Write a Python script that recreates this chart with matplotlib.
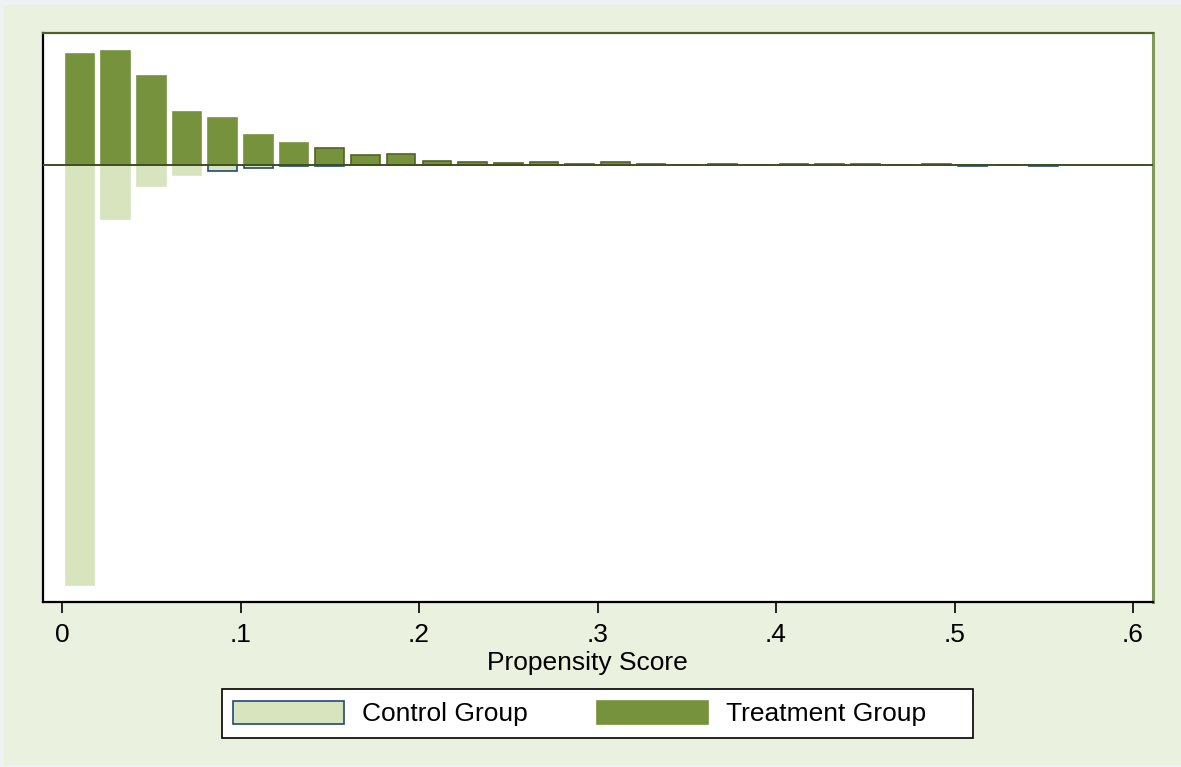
import numpy as np
import matplotlib.pyplot as plt
from matplotlib.patches import Rectangle

plt.rcParams['font.family'] = ['Liberation Sans', 'DejaVu Sans']

# bin centres of the propensity score histogram
bins = [0.01, 0.03, 0.05, 0.07, 0.09, 0.11, 0.13, 0.15, 0.17, 0.19,
        0.21, 0.23, 0.25, 0.27, 0.29, 0.31, 0.33, 0.35, 0.37, 0.39,
        0.41, 0.43, 0.45, 0.47, 0.49, 0.51, 0.53, 0.55]

# treatment frequencies (drawn upward)
treat = [111, 114, 89, 53, 47, 30, 22, 17, 10, 11,
         3.7, 3, 2, 3.3, 1.5, 2.7, 1.3, 0, 1, 0,
         1, 1, 1, 0, 1, 0, 0, 0]

# control frequencies (drawn downward)
control = [420, 54, 21, 10, 6, 3, 1.2, 1.2, 0, 0,
           0, 0, 0, 0, 0, 0, 0, 0, 0, 0,
           0, 0, 0, 0, 0, 1.2, 0, 1.2]

xticks = [0, 0.1, 0.2, 0.3, 0.4, 0.5, 0.6]
xticklabels = ['0', '.1', '.2', '.3', '.4', '.5', '.6']

bg = '#EAF1DE'
c_treat = '#76923C'
c_ctrl = '#D7E4BD'
e_treat = '#4F6228'
e_ctrl = '#1F497D'

W, H = 1181, 767
fig = plt.figure(figsize=(W/100, H/100), dpi=100, facecolor='#EEF2F3')
# stata-like graph region with a thin lighter border on the left/top
fig.patches.append(Rectangle((4/W, 2/H), 1, 1-7/H, transform=fig.transFigure,
                             facecolor=bg, edgecolor='none', zorder=-10))

ax = fig.add_axes([43/W, 1-602/H, (1153-43)/W, (602-33)/H])
ax.set_facecolor('white')

bw = 0.016
ctrl_edges = [e_ctrl if v < 8 else c_ctrl for v in control]
treat_edges = [e_treat if v < 20 else c_treat for v in treat]

ax.bar(bins, [-v for v in control], width=bw, color=c_ctrl,
       edgecolor=ctrl_edges, linewidth=1.2, label='Control Group', zorder=2)
ax.bar(bins, treat, width=bw, color=c_treat,
       edgecolor=treat_edges, linewidth=1.2, label='Treatment Group', zorder=2)
ax.axhline(0, color='#3F4F20', lw=1.4, zorder=3)

ax.set_xlim(-(62-43)/1785, (1153-62)/1785)
ax.set_ylim(-437, 132)

ax.set_xticks(xticks)
ax.set_xticklabels(xticklabels)
ax.set_yticks([])
ax.tick_params(axis='x', length=8, width=1.2, pad=7, labelsize=19, color='black')
ax.set_xlabel('Propensity Score', fontsize=19, va='top')
ax.xaxis.set_label_coords((587-43)/1110, -(651-602)/569)

for s in ['left', 'bottom']:
    ax.spines[s].set_color('black')
    ax.spines[s].set_linewidth(1.6)
ax.spines['top'].set_color('#4F6228')
ax.spines['top'].set_linewidth(1.6)
ax.spines['right'].set_color('#7F9A5A')
ax.spines['right'].set_linewidth(2.2)

# legend box drawn by hand, Stata leaves extra room on the right
fig.patches.append(Rectangle((222/W, 1-738/H), (973-222)/W, (738-689)/H,
                             transform=fig.transFigure, facecolor='white',
                             edgecolor='black', linewidth=1.2, zorder=1))
leg = fig.legend(loc='center left', bbox_to_anchor=(233/W, 1-713.5/H),
                 ncol=2, fontsize=19, frameon=False,
                 handlelength=4.2, handleheight=1.0, handletextpad=0.7,
                 columnspacing=2.6, borderpad=0, borderaxespad=0)
leg.legend_handles[0].set_edgecolor(e_ctrl)
leg.legend_handles[0].set_linewidth(1.2)
leg.legend_handles[1].set_edgecolor(c_treat)
leg.set_zorder(2)

fig.savefig('out.png', dpi=100, facecolor=fig.get_facecolor())
